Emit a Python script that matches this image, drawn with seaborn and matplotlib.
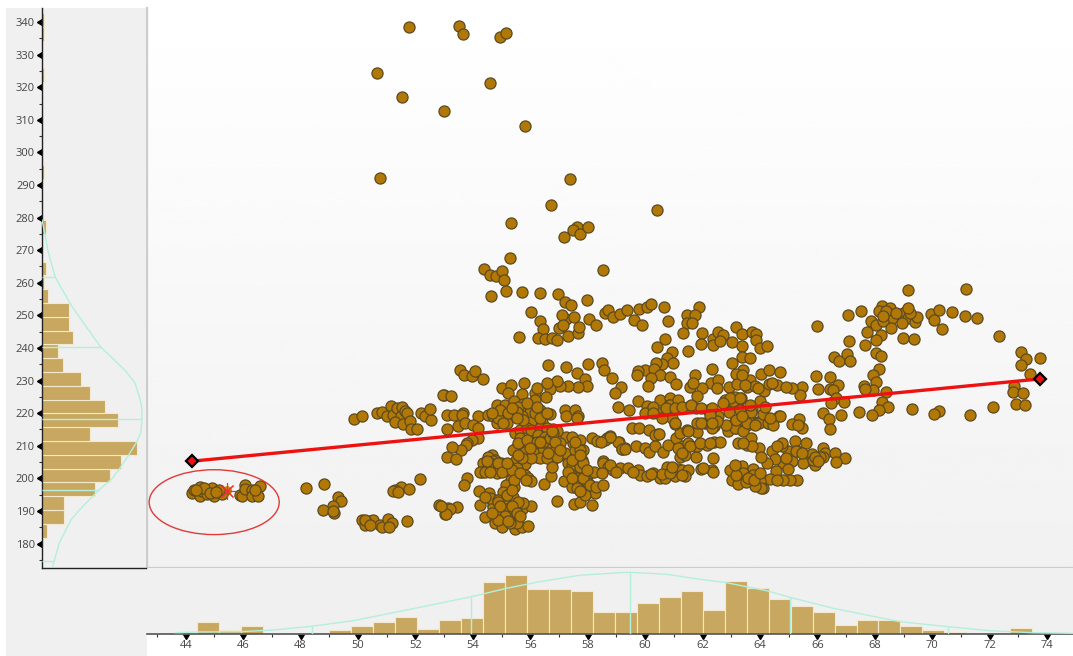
import numpy as np
import pandas as pd
import matplotlib
matplotlib.use('Agg')
import matplotlib.pyplot as plt
from matplotlib.patches import Ellipse, Rectangle
from matplotlib.ticker import MultipleLocator
import seaborn as sns

# scatter values, grouped by region (x, y)
points_top = [(51.77,338.6),(53.51,338.8),(53.66,336.4),(54.94,335.4),(55.14,336.5),(50.67,324.5),(54.58,321.4),
    (51.52,317),(52.99,312.7),(55.8,308),(50.75,292.2),(57.38,291.8),(56.71,283.8),(60.41,282.2),(55.31,278.4),
    (57.64,277.1),(57.49,276.3),(57.72,275),(58,277.1),(57.19,274.1),(55.3,267.6),(58.54,264),(54.37,264.2),
    (54.59,262.4),(54.82,262),(55.01,263.7),(55.08,260.9)]
points_circled = [(44.2,195.4),(44.3,196.5),(44.5,194.6),(44.55,196.2),(44.75,195.2),(44.9,197.0),(45.0,194.6),
    (45.25,195.2),(44.5,197.5),(44.65,197.0),(45.15,196.5),(44.35,196.3),(44.85,195.6),(45.05,195.9),
    (45.9,194.8),(45.95,194.6),(46.05,198),(46.05,196.8),(46.3,196.5),(46.3,194.6),(46.5,194.7),(46.6,197.8),(46.4,196.5)]
points_selected = [(45.45,196.2)]
points_left = [(48.18,197.1),(48.8,198.3),(49.31,194.4),(49.4,193.2),(49.13,191.6),(48.77,190.2),(49.16,189.5),(49.12,190.1),
    (50.15,187.3),(50.24,185.7),(50.42,186.8),(50.53,187.3),(50.77,185.7),(50.82,185.2),(51.06,187.5),(51.19,186.2),
    (51.09,185.2),(51.69,186.8),(50.24,187.1),(50.42,185.7),(51.48,197.5),(51.29,196.5),(51.21,196),(51.4,195.7),
    (51.79,196.8),(52.16,199.8),(52.81,191.7),(53.04,189.1),(53.15,190.8),(49.86,218.3),(50.15,219),(50.65,220.2),
    (50.82,220.3),(51,219),(51.15,222.3),(51.23,219.5),(51.35,221.5),(51.48,219.2),(51.54,222),(51.64,220.8),
    (51.29,217.4),(51.55,216.6),(51.69,220),(51.81,217.7),(51.84,215.2),(52.07,215.2),(52.18,220.2),(52.33,219.2),
    (52.54,218),(52.52,221.3),(53,225.6),(52.95,225.6),(53.23,225.3)]
points_upper = [(54.63,255.8),(55.14,257.6),(55.7,257.3),(56.34,256.8),(56.97,256.5),(57.22,254.2),(57.41,253.2),(57.99,254.8),
    (56.01,251),(56.34,248.4),(57.24,248.9),(57.53,249.4),(57.09,250.2),(56.45,245.8),(56.28,243),(56.51,242.7),
    (56.74,243),(56.94,242.5),(57.32,243.7),(57.67,244.5),(57.69,246.4),(57.01,246.1),(57.15,247.1),(55.6,243.3),
    (58.05,248.9),(58.28,246.9),(56.6,234.8),(57.26,234.3),(58.02,235.1),(57.61,232.3),
    (53.55,233.3),(53.69,231.8),(53.96,231.3),(54.07,232.8),(54.36,230.4),(57.92,230.4),(57.96,228.2),(57.67,228),
    (57.32,228.4),(57.05,228.2),(56.92,229.9),(56.68,227.4),(56.57,229.2),(55,227.7),(55.31,228.7),(55.79,229.2),
    (55.23,226.1),(55.7,225.8),(56.18,226.3),(56.53,225.1),(56.22,227.7)]
points_core_left = [(53.09,219.5),(53.34,219.5),(53.67,220),(53.61,219.3),(54.19,219.2),(54.54,219.5),(53.09,215.1),(53.49,216.1),
    (53.72,216.9),(54,216.4),(54.19,215.4),(54.19,212.3),(53.96,211.8),(53.78,210.8),(53.76,210.3),(53.57,208.7),
    (53.26,209.5),(53.09,206.7),(53.41,205.9),(53.81,200),(53.69,198),(53.44,191.1),(53.2,190.6),(53.06,189),(52.89,191.6),
    (54.83,222.5),(55.12,222.5),(55.43,223.6),(55.76,222.9),(56.16,224.1),(54.71,219),(54.83,216.9),(55.06,219.2),
    (55.41,219.5),(55.87,220.5),(55.64,221.5),(55.7,219),(56.34,221),(56.68,219.8),(56.01,217.4),(56.39,217.4),
    (54.89,218.5),(55.18,216.9),(55.58,222),(55.47,213.9),(55.64,214.9),(55.87,215.4),(56.04,214.9),(56.34,215.4),
    (56.57,215.4),(56.8,215.1),(57.2,221),(57.26,219),(57.55,221),(57.67,219),(57.61,218.5),(57.24,212.8),(58.16,212.5),
    (58.33,211.5),(57.5,211),(57.73,211.8),(57.44,212.8),(57.84,208.7),(57.61,208.7)]
points_core_mid = [(55.5,209.3),(55.41,208.7),(55.64,212.3),(56.04,211.3),(56.28,213.3),(56.51,212.8),(56.78,211.8),(56.28,209.3),
    (56.8,209.3),(57.03,207.2),(56.74,205.2),(56.39,207.2),(56.22,206.7),(55.81,204.5),(55.5,205.7),(55.93,208.7),
    (56.68,208.7),(56.86,209),(57.03,210.8),(56.92,214.4),(56.57,210.8),(56.45,208.7),(55.76,210.3),(56.1,208.2),
    (56.34,206.2),(57.2,207.9),(57.55,208.7),(57.5,205.2),(57.79,205.7),(57.73,208.7),(57.38,204.2),(57.32,204.7)]
points_core_low = [(54.36,204.7),(54.3,202.1),(54.48,202.6),(54.65,207.2),(54.77,205.7),(54.25,202.1),(54.54,206.7),(54.83,201.6),
    (54.98,204.7),(55.18,202.8),(55.47,201.8),(55.23,204.2),(55.52,203.1),(54.71,205.2),(54.42,202.1),(55.31,199.5),
    (55.81,201.1),(55.93,200),(56.01,199.2),(55.15,198),(55.43,197.2),(55.04,195.7),(54.57,195.5),(54.22,196),
    (55.38,194.2),(54.71,191.9),(54.25,191.7),(54.77,193.4),(55.14,192.2),(55.7,190.6),(56.04,191.6),(55.76,192.4),
    (54.42,188.1),(54.71,191.1),(55.06,189.8),(55.29,188.3),(55.47,187.1),(54.98,187.1),(54.77,186.3),(55,185.2),
    (55.47,184.4),(55.7,185.2),(55.93,185.4),(55.52,186.3),(54.83,188.8),(55.58,192.9),(54.6,193.9),(54.89,193.4),(55.18,190.6)]
points_core_right = [(56.47,198.3),(56.72,200.6),(57.17,199.2),(57.44,197.5),(56.92,193.2),(57.53,192.2),(57.73,192.9),(58.14,191.7),
    (58.14,197.3),(57.96,195.5),(57.9,196),(58.25,195.5),(57.84,196.5),(57.5,201.1),(57.67,201.6),(57.96,200.6),
    (58.21,201.8),(57.78,200),(57.55,200.6),(57.38,202.1),(57.67,198.5),(57.61,200),(57.84,197.5),(58.02,198.5),
    (57.44,204.2),(57.73,203.6),(57.84,204.7),(58.66,212.3),(58.77,212.9),(59.08,211.3),(59.18,209.1),(59.29,209.3),
    (58.54,205.2),(58.71,203.4),(59.12,203.1),(59.41,203.1)]
points_band_60 = [(58.6,250.7),(58.69,251.5),(58.89,249.6),(59.13,250.5),(59.36,251.7),(59.79,252),(60.05,252.5),(60.19,253.5),
    (60.67,252.5),(60.8,248.4),(59.62,248.6),(59.88,247.1),(61.45,250.2),(61.45,247.6),(61.31,244.5),(60.69,242.8),
    (60.4,240.4),(61.5,239.1),(60.92,238.7),(60.75,236.9),(60.98,235.5),(60.58,235.1),(60.38,235.5),(60,233.3),
    (60.29,233.5),(59.76,233),(59.73,231.8),(60.52,231.8),(60.2,230.7),(60.87,231),(61.07,229),(60.09,228.4),(61.56,227.9),
    (58.49,235.3),(58.57,233.1),(58.85,230.7),(59.16,227.9),(58.94,226.1),(59.07,222),(59.42,221),(59.76,223.6),
    (60.05,222.2),(60.23,221),(60.52,224.1),(60.87,224.6),(60.84,222.4),(61.16,223.1),(61.5,221.8),(60,220),(60.92,218.5),
    (60.4,220.5),(60.57,218.5),(60.28,222),(60.86,222.6),(61.15,224.1)]
points_band_63 = [(61.87,252.5),(61.73,250.2),(61.62,247.6),(61.97,244.5),(61.94,241.2),(62.35,242.8),(62.55,245),(62.72,244),
    (62.37,241),(62.6,242),(63.18,246.4),(63.36,244.2),(63.04,241.8),(63.36,240.7),(63.36,237.2),(63.65,237),(63.04,235.5),
    (63.39,233.3),(63.15,232.1),(63.71,244.8),(63.85,244.2),(63.86,242.5),(64,240),(64.25,240.7),(62.31,233.5),
    (62.29,229.4),(62.55,230.2),(61.97,227.7),(62.49,227.7),(61.73,231.8),(61.68,229.4),(61.82,225.3),(62.93,228),
    (63.21,229),(63.56,228),(63.65,230.2),(63.82,228.2),(64.14,226.9),(64.05,232.1),(64.32,233.1),(64.69,232.5),
    (64.31,228.9),(64.6,228.7),(62.84,223.6),(63.13,223.1),(64,223.6),(63.24,222),(63.71,221.3),(62.2,221),(61.77,221.5),
    (62.93,220.5),(62.55,219),(62.08,217.1),(62.4,216.1),(63.13,217.5),(63.53,219.5),(63.94,217.2),(64.67,219),(64.29,216.9),
    (62.89,215.6),(63.53,216.4),(63.18,215.4),(63.12,225.1),(62.77,224.1),(63.88,216.9),(63.59,218)]
points_lower_mid = [(58.72,212.3),(58.6,211.8),(59.06,211.3),(58.77,212.8),(58.46,211.3),(59.18,208.9),(59.3,208.9),(59.53,215.4),(59.8,215.4),
    (60.13,214.9),(60.46,213.7),(60.34,213.3),(59.68,209.8),(60,209.3),(60.13,208.2),(60.34,210),(60.63,208.2),(60.8,210.3),
    (58.54,204.7),(58.72,203.4),(59.76,202.6),(59.82,201.1),(60.05,200.8),(60.28,201.6),(60.51,200),(60.69,200),(60.75,203.6),
    (61.04,200.6),(61.15,202.8),(61.27,202.6),(61.5,202.6),(61.38,200.6),(61.96,202.8),(62.31,202.6),(62.37,202.1),
    (62.35,206.2),(61.77,206.4),(61.07,212.3),(61.21,213.9),(61.44,214.9),(61.79,214.1),(61.79,216.9),(62.14,217.1),(62.4,216.1),
    (62.31,215.4),(62.87,214.4),(63.12,215.4),(63.41,214.4),(61.04,216.7),(61.33,209.8),(61.15,209.3),(61.79,209.8),(61.5,210.8),
    (62.14,210.3),(62.39,211.1),(62.6,211.3),(61.21,206.7),(61.38,207.2),(60.57,201.2),(60.2,201.4),(61.03,216.9),(60.48,213.7),
    (62.83,216.4),(63.18,217.9),(63.53,216.9),(63.97,217.1),(64.28,216.9),(64.46,216.4),(64.11,219.8),(64.69,219),
    (63.24,211),(63.53,210.3),(63.7,212.3),(62.95,202.6),(63.36,203.9),(63.76,202.8),(63.01,199.5),(63.24,198.3),(63.88,200.6),
    (63.82,198),(64,199.2),(64.11,197),(63.41,201.6),(63.59,200),(63.18,201.1),(63.12,204.1)]
points_right = [(69.16,257.8),(71.16,258.1),(66,246.6),(67.08,250),(67.51,251.2),(68.26,253),(68.54,252.4),(68.15,251.2),(68.37,250.4),
    (68.59,249.3),(68.9,250.5),(69.04,250.9),(69.16,249.1),(68.95,247.6),(69.39,248.1),(69.48,249.6),(67.86,248.3),(68.03,247.1),
    (68.29,248.3),(68.55,246.1),(67.74,245),(68.21,244),(68.03,242.5),(67.65,240.8),(67.09,242),(68.98,243),(69.36,242.7),
    (69.95,250.4),(70.24,251.7),(70.05,248.6),(70.67,251),(70.33,245.9),(71.15,249.9),(71.56,249.1),(72.32,243.8),(73.1,238.7),
    (73.28,236.7),(73.08,234.8),(73.74,236.9),(73.39,232.1),(68.03,238.4),(68.2,237.4),(68.14,233.6),(67.94,231.6),(68.03,229.7),
    (67.63,228.2),(67.92,227.2),(67.65,227.5),(68.4,226.5),(66.56,237.2),(66.75,235.9),(67.04,238.2),(67.15,235.9),(65.94,231.3),
    (66.43,231.1),(66.03,227.5),(66.43,227.4),(66.7,228.7),(66.55,227.2),(66.64,224.6),(66.46,223.1),(66.94,223.3),(72.85,228.2),
    (72.81,226.5),(73.16,226.1),(72.92,222.9),(73.22,222.6),(68.24,223.3),(68.46,221.9),(68.14,221),(67.91,219.3),(67.46,220.5),
    (66.81,219.3),(66.21,220.2),(66.4,218.3),(66.43,215.2),(69.29,221.2),(70.23,220.7),(70.06,219.8),(71.33,219.5),(72.12,221.9),
    (65.36,218.2),(65.1,216.6),(65.45,215.6),(65.33,216.5),(65.45,228),(65.39,225.6),(65.12,227.7),(64.92,228),
    (65.21,211.5),(65.6,211),(66.2,209.3),(64.96,208.3),(65.3,208.5),(64.77,209.8),(64.4,208.3),(63.97,209.3),(63.71,210),(63.42,210.8),
    (66.28,207.7),(66.61,207.7),(66.95,206.2),(66.66,204.9),(66.2,206.7),(65.91,204.2),(65.74,207.2),(65.68,205.5),(65.5,204.7),
    (65.12,205.4),(64.81,204.7),(64.52,205.9),(64.23,204.7),(64.98,202.8),(64.55,202.3),(65.3,199.4),(65.04,199.4),(64.81,199.6),
    (64.34,199.8),(64,199.3),(64.05,197),(63.82,197.7),(63.51,199),(64.75,211),(65.27,208.5),(65.8,207.6),(66.08,206.7),(65.85,205.7)]
# second pass through the dense parts, overlapped circles
points_dense = [(54.6,204.7),(54.48,205.2),(54.88,204.7),(54.6,201.8),(55,202.1),(55.35,202.6),(55.18,204.7),(55.43,199.5),(55.64,201.6),
    (55.85,199.5),(55.18,195),(55.35,196.5),(54.89,192.9),(54.42,194.4),(54.94,191.4),(55.35,191.4),(55.52,189.3),(55.12,188.3),
    (54.89,187.3),(55.29,186.3),(54.65,189.3),(55.64,188.3),(55.23,186.8),(55.58,210.8),(55.87,211.8),(56.22,211.3),(56.45,211.3),
    (56.68,212.3),(56.8,213.9),(55.81,208.2),(56.04,206.2),(56.57,206.2),(56.92,206.7),(56.86,211.3),(56.34,211.3),(56.62,207.7),
    (57.03,208.7),(55.7,206.2),(55.99,209.3),(55.58,207.2),(56.74,203.6),(56.74,214.4),(54.94,221),(55.23,220),(55.52,220.5),(55.76,218),
    (56.16,220),(56.34,218.5),(55.35,221.5),(54.65,220),(55.06,216.9),(55.87,223),(55.52,218.5),(56.22,222),(56.57,220),
    (57.32,202.1),(57.44,200),(57.84,200),(58.07,198),(57.61,197),(57.9,195),(57.73,196),(58.3,197.5),(57.44,205.7),(57.73,207.2),
    (57.55,211.3),(57.96,202.6),(60.28,220),(60.74,221.5),(61.03,221.5),(61.27,222),(61.6,222.5),(61.96,221.5),(62.31,221.5),
    (63.06,223.6),(63.35,224.6),(63.3,221),(63.7,220.5),(63.36,231.8),(63.47,228.7),(63.94,227.7),(64.4,229.2),(62.95,224.6),(63.3,224.6),
    (63.65,222.5),(64.17,222),(64.34,218.5),(63.82,216.4),(63.36,219),(62.72,223),(62.49,217.5),(62.26,219.5),(64.05,206.7),(64.58,209.8),
    (65.45,207.7),(65.91,206.7),(64.92,206.2),(66.03,205.2),(63.76,201.1),(63.59,200),(64.58,199.6),(63.79,199.5),(64,201.6),
    (68.4,251.2),(68.75,250.7),(69.22,250.7),(68.29,249.7),(69.16,252.2),(58.89,202.6),(59.59,202.1),(60.86,201.6),(61.27,201.1),
    (60.92,203.6),(62.02,203.1),(58.77,204.1),(58.48,201.6),(58.54,198),(59,202.1),(61.56,209.8),(61.91,210.8),(62.25,210.8),(61.27,207.7),
    (61.5,214.4),(61.96,216.9),(62.31,216.9)]

point_groups = [points_top, points_circled, points_left, points_upper, points_core_left, points_core_mid, points_core_low,
                points_core_right, points_band_60, points_band_63, points_lower_mid, points_right, points_dense]

# regression line ends and the circled region
line_x = [44.22, 73.74]
line_y = [205.27, 230.5]
circle_center = (44.99, 192.7)
circle_width = 4.53
circle_height = 19.9

# x histogram (counts per bin)
x_bin_start = 44.38
x_bin_width = 0.766
x_counts = [12,4,8,0,0,1,4,8,12,17,5,14,16,52,59,45,45,43,22,22,31,37,43,24,53,46,35,28,22,9,14,14,8,4,2,1,1,6]
# y histogram (counts per bin)
y_bin_start = 181.84
y_bin_width = 4.233
y_counts = [5,22,22,53,68,79,95,48,76,63,48,39,21,16,31,27,27,6,2,4,0,0,4,0,0,0,2,0,0,1,1,1,0,2,0,0,2,2]

# normal curves
x_curve_x = [43.63,44.38,45.89,47.05,48.38,49.83,51.69,53.95,55.17,56.33,57.72,59.11,59.47,60.75,61.91,62.83,64.23,65.04,66.55,67.71,68.87,70.55,72.0,73.5,74.89]
x_curve_y = [1.3,2,2.3,4,7.7,13.3,24,37.3,45.7,52.3,58.7,61.3,61.7,59.7,54.7,51.3,43.3,36.7,25.7,19,12.3,7.3,3.3,1.3,0.7]
x_sigma_x = [48.38, 53.95, 59.47, 65.04, 70.55]
x_sigma_y = [7.7, 37.3, 61.7, 36.7, 7.3]
y_curve_y = [173,180.2,187.3,191.4,196.5,200.1,203.2,206.7,210.8,213.9,218.2,222,225.1,229.2,232.8,236.4,240.2,246.6,253.2,261.7,270.1,273.2,279.3]
y_curve_x = [10.7,17.3,29,40.7,57.3,70.7,78,85.7,94,98.7,100,99.7,97.3,93,84,72,59,44,29,13.3,5.7,4,0]
y_sigma_y = [174.8, 196.5, 218.2, 240.2, 261.7]
y_sigma_x = [12.3, 57.3, 100, 59, 13.3]

x_ticks = list(range(44, 76, 2))
y_ticks = list(range(180, 350, 10))

W, H = 1073, 656
BAR = '#c8a860'
BAR_EDGE = '#f2e9cf'
MINT = '#b4efdc'
PANEL = '#f0f0f0'
TICK_TEXT = '#444444'

sns.set_style('white')
plt.rcParams['font.family'] = ['Open Sans', 'DejaVu Sans']


def px_axes(fig, left, top, right, bottom):
    return fig.add_axes([left / W, 1 - bottom / H, (right - left) / W, (bottom - top) / H])


def carets(axis, marker, size):
    for t in axis.get_major_ticks():
        t.tick1line.set_marker(marker)
        t.tick1line.set_markersize(size)
        t.tick1line.set_markerfacecolor('black')
        t.tick1line.set_markeredgecolor('black')


fig = plt.figure(figsize=(W / 100, H / 100), dpi=100, facecolor='white')
fig.patches.append(Rectangle((6 / W, 0), 141 / W, 1 - 8 / H, transform=fig.transFigure, facecolor=PANEL, edgecolor='none', zorder=-1))

xlim = (42.65, 74.9)
ylim = (172.5, 344.3)

scatter_df = pd.DataFrame([p for group in point_groups for p in group], columns=['x', 'y'])

# main panel
ax = px_axes(fig, 147, 8, 1073, 568)
grad = np.linspace(1, 0.945, 256).reshape(-1, 1)
ax.imshow(grad, aspect='auto', extent=(*xlim, *ylim), origin='upper', cmap='gray', vmin=0, vmax=1, zorder=0)
sel_x, sel_y = zip(*points_selected)
ax.scatter(sel_x, sel_y, s=45, color='#d08a10', edgecolor='none', zorder=2)
sns.scatterplot(data=scatter_df, x='x', y='y', ax=ax, s=64, color='#b27806', edgecolor='#5c4a20', linewidth=0.9, zorder=3)
ax.plot(sel_x, sel_y, marker=(8, 2, 0), ms=12, mew=0.8, color='#f03030', ls='none', zorder=4)
sns.lineplot(x=line_x, y=line_y, ax=ax, color='#ee1111', linewidth=2.4, zorder=5, errorbar=None, sort=False)
ax.plot(line_x, line_y, ls='none', marker='D', ms=6, mfc='#ee1111', mec='black', mew=1.6, zorder=6)
ax.add_patch(Ellipse(circle_center, circle_width, circle_height, fill=False, edgecolor='#e03a3a', linewidth=1.0, zorder=5))
ax.set_xlim(xlim)
ax.set_ylim(ylim)
ax.set_xlabel('')
ax.set_ylabel('')
ax.set_xticks([])
ax.set_yticks([])
for s in ['top', 'right']:
    ax.spines[s].set_visible(False)
for s in ['left', 'bottom']:
    ax.spines[s].set_color('#cccccc')
    ax.spines[s].set_linewidth(1.6)

# bottom histogram
ax_x = px_axes(fig, 147, 568, 1073, 634)
ax_x.set_facecolor(PANEL)
x_edges = x_bin_start + x_bin_width * np.arange(len(x_counts) + 1)
x_left = x_edges[:-1] + x_bin_width / 2
sns.histplot(x=x_left, weights=x_counts, bins=x_edges.tolist(), ax=ax_x, color=BAR, edgecolor=BAR_EDGE, linewidth=0.8, alpha=1, zorder=2)
sns.lineplot(x=x_curve_x, y=x_curve_y, ax=ax_x, color=MINT, linewidth=1.0, sort=False, errorbar=None, zorder=3)
ax_x.vlines(x_sigma_x, 0, x_sigma_y, color=MINT, linewidth=1.0, zorder=3)
ax_x.set_xlim(xlim)
ax_x.set_ylim(0, 66)
ax_x.set_xlabel('')
ax_x.set_ylabel('')
ax_x.set_yticks([])
ax_x.set_xticks(x_ticks)
ax_x.xaxis.set_minor_locator(MultipleLocator(1))
ax_x.tick_params(axis='x', which='major', bottom=True, length=3.5, width=1, pad=1, labelsize=8, labelcolor=TICK_TEXT)
ax_x.tick_params(axis='x', which='minor', bottom=True, length=2.5, width=0.8, color='#333333')
carets(ax_x.xaxis, 11, 5)
for s in ['top', 'left', 'right']:
    ax_x.spines[s].set_visible(False)
ax_x.spines['bottom'].set_color('#555555')
ax_x.spines['bottom'].set_linewidth(1.2)

# left histogram
ax_y = px_axes(fig, 42, 8, 146, 568)
ax_y.set_facecolor(PANEL)
y_edges = y_bin_start + y_bin_width * np.arange(len(y_counts) + 1)
y_left = y_edges[:-1] + y_bin_width / 2
sns.histplot(y=y_left, weights=y_counts, bins=y_edges.tolist(), ax=ax_y, color=BAR, edgecolor=BAR_EDGE, linewidth=0.8, alpha=1, zorder=2)
sns.lineplot(x=y_curve_x, y=y_curve_y, ax=ax_y, color=MINT, linewidth=1.0, sort=False, errorbar=None, zorder=3, orient='y')
ax_y.hlines(y_sigma_y, 0, y_sigma_x, color=MINT, linewidth=1.0, zorder=3)
ax_y.set_xlim(0, 104)
ax_y.set_ylim(ylim)
ax_y.set_xlabel('')
ax_y.set_ylabel('')
ax_y.set_xticks([])
ax_y.set_yticks(y_ticks)
ax_y.yaxis.set_minor_locator(MultipleLocator(5))
ax_y.tick_params(axis='y', which='major', left=True, length=3.5, width=1, pad=1.5, labelsize=8, labelcolor=TICK_TEXT)
ax_y.tick_params(axis='y', which='minor', left=True, length=2.5, width=0.8, color='#333333')
carets(ax_y.yaxis, 8, 5)
for s in ['top', 'right']:
    ax_y.spines[s].set_visible(False)
for s in ['left', 'bottom']:
    ax_y.spines[s].set_color('#222222')
    ax_y.spines[s].set_linewidth(1.0)

fig.savefig('out.png', dpi=100, facecolor='white')
